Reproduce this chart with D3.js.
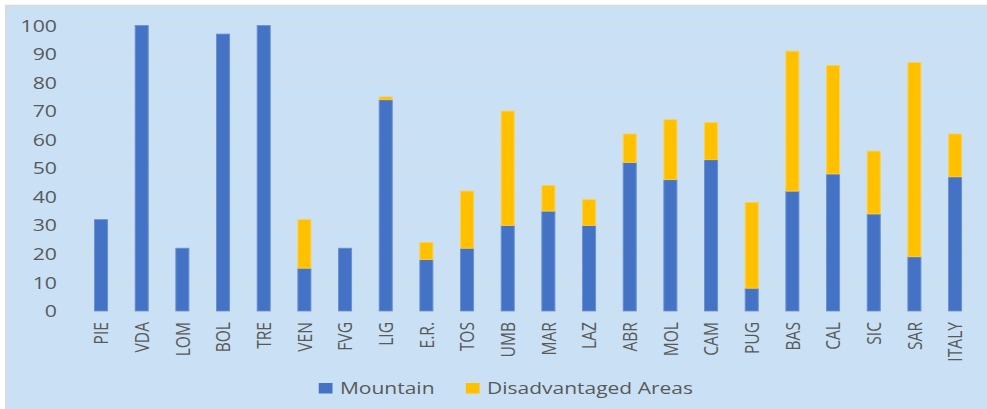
<!DOCTYPE html>
<html>
<head>
<meta charset="utf-8">
<script src="https://cdn.jsdelivr.net/npm/d3@7"></script>
<style>
  body { margin: 0; background: #fff; }
  svg { display: block; }
  text { font-family: 'Open Sans', sans-serif; fill: #595959; }
</style>
</head>
<body>
<svg></svg>
<script>
var regions = ['PIE','VDA','LOM','BOL','TRE','VEN','FVG','LIG','E.R.','TOS','UMB','MAR','LAZ','ABR','MOL','CAM','PUG','BAS','CAL','SIC','SAR','ITALY'];
var mountain = [32,100,22,97,100,15,22,74,18,22,30,35,30,52,46,53,8,42,48,34,19,47];
var disadvantaged = [0,0,0,0,0,17,0,1,6,20,40,9,9,10,21,13,30,49,38,22,68,15];
var yTicks = [0,10,20,30,40,50,60,70,80,90,100];
var seriesNames = ['Mountain','Disadvantaged Areas'];
var seriesColors = ['#4472c4','#ffc000'];

// the original picture is stretched sideways, so draw narrow and stretch the svg
var stretch = 1.25;
var width = 987;
var height = 409;
var innerW = width / stretch;

var svg = d3.select('svg')
    .attr('width', width)
    .attr('height', height)
    .attr('viewBox', `0 0 ${innerW} ${height}`)
    .attr('preserveAspectRatio', 'none');

svg.append('rect')
    .attr('x', 4.8)
    .attr('y', 5.5)
    .attr('width', innerW + 10)
    .attr('height', height + 10)
    .attr('fill', '#cae1f5')
    .attr('stroke', '#d9d9d9')
    .attr('stroke-width', 1.5);

var rows = regions.map((r, i) => ({region: r, Mountain: mountain[i], 'Disadvantaged Areas': disadvantaged[i]}));
var stacked = d3.stack().keys(seriesNames)(rows);

var Xscale = d3.scaleBand()
    .domain(regions)
    .range([80.7 / stretch, 975.4 / stretch])
    .paddingInner(0.68)
    .paddingOuter(0.34);
var Yscale = d3.scaleLinear().domain([0, 100]).range([311, 25.5]);

// gridlines
svg.append('g')
    .selectAll('line')
    .data(yTicks)
    .enter()
    .append('line')
    .attr('x1', 80 / stretch)
    .attr('x2', 978 / stretch)
    .attr('y1', d => Yscale(d))
    .attr('y2', d => Yscale(d))
    .attr('stroke', '#d4dce4')
    .attr('stroke-width', 1);

// y labels
svg.append('g')
    .selectAll('text')
    .data(yTicks)
    .enter()
    .append('text')
    .attr('x', 57 / stretch)
    .attr('y', d => Yscale(d))
    .attr('dy', '0.36em')
    .attr('text-anchor', 'end')
    .style('font-size', '17px')
    .text(d => d);

// bars
svg.append('g')
    .selectAll('g')
    .data(stacked)
    .enter()
    .append('g')
    .attr('fill', (d, i) => seriesColors[i])
    .attr('stroke', (d, i) => i == 0 ? '#6b8fd2' : '#ffd04d')
    .attr('stroke-width', 0.8)
    .selectAll('rect')
    .data(d => d.filter(p => p[1] - p[0] > 0))
    .enter()
    .append('rect')
    .attr('x', d => Xscale(d.data.region))
    .attr('width', Xscale.bandwidth())
    .attr('y', d => Yscale(d[1]))
    .attr('height', d => Yscale(d[0]) - Yscale(d[1]));

// x labels
svg.append('g')
    .selectAll('text')
    .data(regions)
    .enter()
    .append('text')
    .attr('transform', d => `translate(${Xscale(d) + Xscale.bandwidth() / 2},322) rotate(-90)`)
    .attr('dy', '0.37em')
    .attr('text-anchor', 'end')
    .style('font-size', '15.6px')
    .text(d => d);

// legend
var legend = svg.append('g').attr('transform', 'translate(255,0)');
var lx = 0;
seriesNames.forEach(function (name, i) {
    legend.append('rect')
        .attr('x', lx)
        .attr('y', 383)
        .attr('width', 11)
        .attr('height', 10.5)
        .attr('fill', seriesColors[i]);
    var t = legend.append('text')
        .attr('x', lx + 17)
        .attr('y', 394)
        .style('font-size', '16.8px')
        .text(name);
    lx += 17 + t.node().getComputedTextLength() + 25;
});
</script>
</body>
</html>
